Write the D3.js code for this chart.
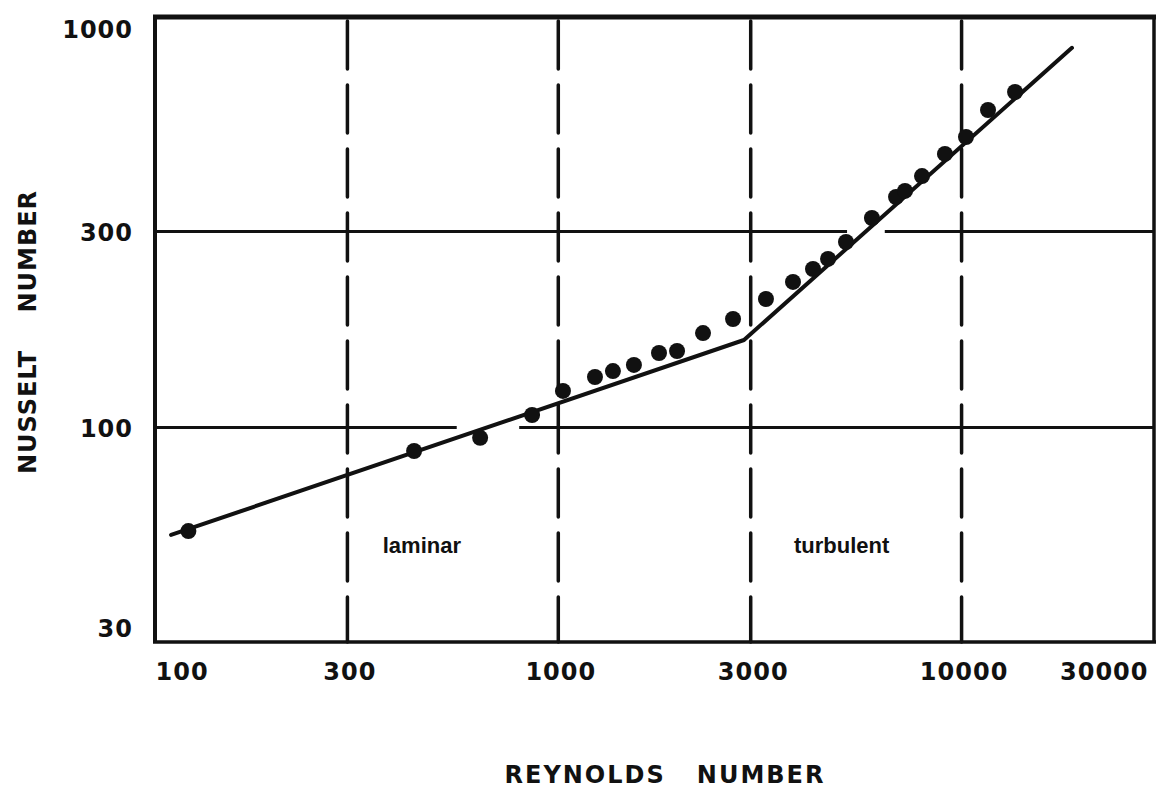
<!DOCTYPE html>
<html>
<head>
<meta charset="utf-8">
<script src="https://cdn.jsdelivr.net/npm/d3@7"></script>
<style>
  body { margin: 0; background: #fff; }
  svg { display: block; }
  text { font-family: "DejaVu Sans", sans-serif; fill: #111; }
</style>
</head>
<body>
<svg id="chart" width="1157" height="788"></svg>
<script>
// tick values on both log axes
var reTicks = [100, 300, 1000, 3000, 10000, 30000];
var nuTicks = [30, 100, 300, 1000];

// dashed vertical grid (Reynolds) and solid horizontal grid (Nusselt)
var reGrid = [300, 1000, 3000, 10000];
var nuGrid = [100, 300];
// breaks in the horizontal grid lines, in Reynolds units
var nuGridGaps = [
  {nu: 100, from: 560, to: 800},
  {nu: 300, from: 5200, to: 6450}
];

// measured points
var reynolds = [121, 439, 640, 861, 1027, 1233, 1366, 1540, 1777, 1970, 2285, 2712,
                3273, 3819, 4281, 4665, 5169, 5994, 6878, 7239, 7977, 9095, 10254, 11630, 13570];
var nusselt  = [55.9, 87.6, 94.3, 107.2, 122.7, 132.7, 137.2, 142.0, 151.8, 153.5, 169.8, 183.7,
                205.5, 226.2, 243.2, 257.3, 283.0, 323.8, 364.3, 376.8, 409.7, 463.8, 510.1, 593.5, 656.6];

// fitted correlation (laminar then turbulent)
var fitRe = [109.6, 2887, 18780];
var fitNu = [54.7, 163.3, 841];

var regionLabels = ["laminar", "turbulent"];
var regionRe = [367, 3840];
var regionNu = [49.5, 49.5];

var svg = d3.select("#chart");
var pLeft = 155, pRight = 1154, pTop = 17, pBottom = 642;

var x = d3.scaleLog().domain([100, 30000]).range([pLeft, pRight]);
var y = d3.scaleLog().domain([30, 1000]).range([pBottom, pTop]);

// horizontal grid lines, split around the gaps
nuGrid.forEach(function(v) {
  var segs = [[100, 30000]];
  nuGridGaps.filter(function(g) { return g.nu == v; }).forEach(function(g) {
    var last = segs.pop();
    segs.push([last[0], g.from]);
    segs.push([g.to, last[1]]);
  });
  segs.forEach(function(s) {
    svg.append("line")
      .attr("x1", x(s[0])).attr("x2", x(s[1]))
      .attr("y1", y(v)).attr("y2", y(v))
      .attr("stroke", "#111").attr("stroke-width", 3);
  });
});

// vertical dashed grid lines
svg.selectAll(".vgrid").data(reGrid).enter().append("line")
  .attr("class", "vgrid")
  .attr("x1", function(d) { return x(d); })
  .attr("x2", function(d) { return x(d); })
  .attr("y1", pTop + 4).attr("y2", pBottom)
  .attr("stroke", "#111").attr("stroke-width", 3.5)
  .attr("stroke-dasharray", "48,16")
  .attr("stroke-linecap", "round");

// frame
svg.append("line").attr("x1", pLeft - 2).attr("x2", pRight + 2).attr("y1", pTop).attr("y2", pTop)
  .attr("stroke", "#111").attr("stroke-width", 5);
svg.append("line").attr("x1", pLeft).attr("x2", pLeft).attr("y1", pTop).attr("y2", pBottom)
  .attr("stroke", "#111").attr("stroke-width", 4);
svg.append("line").attr("x1", pRight).attr("x2", pRight).attr("y1", pTop).attr("y2", pBottom)
  .attr("stroke", "#111").attr("stroke-width", 3.5);
svg.append("line").attr("x1", pLeft - 2).attr("x2", pRight + 2).attr("y1", pBottom).attr("y2", pBottom)
  .attr("stroke", "#111").attr("stroke-width", 3.5);

// fit line
var fit = fitRe.map(function(r, i) { return [r, fitNu[i]]; });
svg.append("path")
  .datum(fit)
  .attr("d", d3.line().x(function(d) { return x(d[0]); }).y(function(d) { return y(d[1]); }))
  .attr("fill", "none")
  .attr("stroke", "#111")
  .attr("stroke-width", 4)
  .attr("stroke-linecap", "round")
  .attr("stroke-linejoin", "round");

// data points
var pts = reynolds.map(function(r, i) { return {re: r, nu: nusselt[i]}; });
svg.selectAll(".pt").data(pts).enter().append("circle")
  .attr("class", "pt")
  .attr("cx", function(d) { return x(d.re); })
  .attr("cy", function(d) { return y(d.nu); })
  .attr("r", 8)
  .attr("fill", "#111");

// x axis labels
var xAxis = d3.axisBottom(x).tickValues(reTicks).tickSize(0)
  .tickFormat(function(d) { return String(d); });
var gx = svg.append("g").attr("transform", "translate(0," + pBottom + ")").call(xAxis);
gx.select(".domain").remove();
gx.selectAll("text")
  .attr("y", 38)
  .attr("dy", 0)
  .style("font-family", "DejaVu Sans")
  .style("font-weight", "bold")
  .style("font-size", "24px")
  .style("letter-spacing", "1px")
  .style("fill", "#111")
  .attr("text-anchor", function(d, i) { return i == 0 ? "start" : (i == reTicks.length - 1 ? "end" : "middle"); })
  .attr("dx", function(d, i) { return i == 0 ? 0 : (i == reTicks.length - 1 ? -6 : 2); });

// y axis labels
var yAxis = d3.axisLeft(y).tickValues(nuTicks).tickSize(0)
  .tickFormat(function(d) { return String(d); });
var gy = svg.append("g").attr("transform", "translate(" + pLeft + ",0)").call(yAxis);
gy.select(".domain").remove();
gy.selectAll("text")
  .attr("x", -22)
  .attr("dy", function(d) { return d == 1000 ? "0.85em" : (d == 30 ? "-0.22em" : "0.36em"); })
  .style("font-family", "DejaVu Sans")
  .style("font-weight", "bold")
  .style("font-size", "24px")
  .style("letter-spacing", "1px")
  .style("fill", "#111");

// region labels
svg.selectAll(".region").data(regionLabels).enter().append("text")
  .attr("class", "region")
  .attr("x", function(d, i) { return x(regionRe[i]); })
  .attr("y", function(d, i) { return y(regionNu[i]); })
  .style("font-family", "Liberation Sans")
  .style("font-weight", "bold")
  .style("font-size", "22px")
  .text(function(d) { return d; });

// axis titles
svg.append("text")
  .attr("x", 665).attr("y", 783)
  .attr("text-anchor", "middle")
  .style("font-weight", "bold")
  .style("font-size", "24px")
  .style("letter-spacing", "2px")
  .style("white-space", "pre")
  .text("REYNOLDS   NUMBER");

svg.append("text")
  .attr("transform", "translate(36,332) rotate(-90)")
  .attr("text-anchor", "middle")
  .style("font-weight", "bold")
  .style("font-size", "24px")
  .style("letter-spacing", "1px")
  .style("white-space", "pre")
  .text("NUSSELT    NUMBER");
</script>
</body>
</html>
